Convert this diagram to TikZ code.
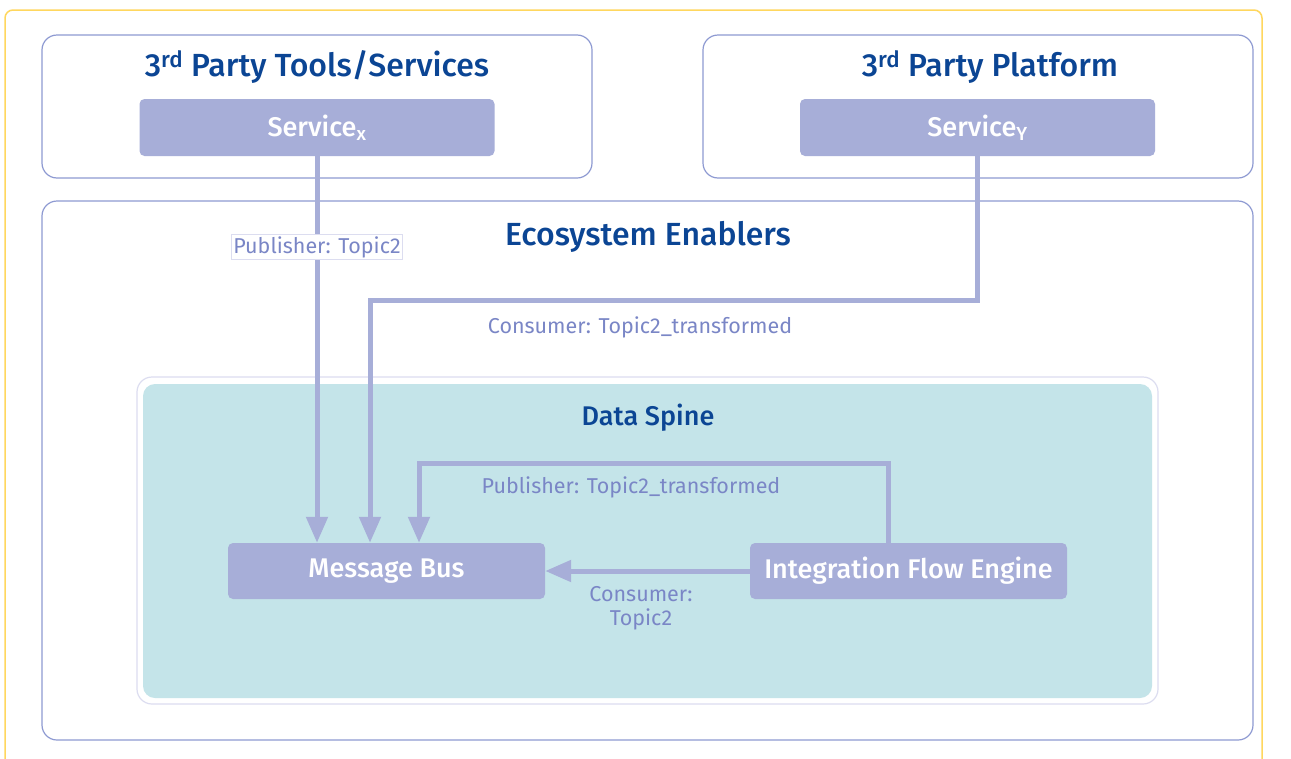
\documentclass[tikz,border=0pt]{standalone}
\usepackage{fontspec}
\setmainfont{Fira Sans}[BoldFont={Fira Sans Medium}]
\usetikzlibrary{arrows.meta}
\definecolor{lav}{HTML}{A7AED8}
\definecolor{frameblue}{HTML}{8E9AD2}
\definecolor{labtxt}{HTML}{7A86C6}
\definecolor{darkblue}{HTML}{0B4594}
\definecolor{teal}{HTML}{C4E4E9}
\definecolor{ylw}{HTML}{FFD75E}
\definecolor{spineedge}{HTML}{DCDDF0}
\tikzset{
  frame/.style={draw=frameblue, line width=1.2pt, rounded corners=15pt, inner sep=0pt},
  title/.style={text=darkblue, font=\bfseries\fontsize{32}{36}\selectfont},
  svc/.style={fill=lav, rounded corners=5pt, inner sep=0pt, text=white, font=\bfseries\fontsize{27}{30}\selectfont},
  conn/.style={draw=lav, line width=5pt},
  arr/.style={conn, -{Triangle[length=26pt,width=21pt]}},
  lab/.style={text=labtxt, font=\fontsize{21.5}{25}\selectfont, align=center, inner sep=2pt}
}
\begin{document}
\begin{tikzpicture}[x=1pt,y=-1pt]
\useasboundingbox (0,0) rectangle (1291,758);
\fill[white] (0,0) rectangle (1291,758);
\draw[ylw, line width=1.5pt, rounded corners=8pt] (5,800) -- (5,10) -- (1262,10) -- (1262,800);

% top boxes
\node[frame, minimum width=550pt, minimum height=143pt] (tools) at (317,106.5) {};
\node[frame, minimum width=550pt, minimum height=143pt] (plat) at (978,106.5) {};
\node[title] (toolsT) at (317,67) {3\textsuperscript{rd} Party Tools/Services};
\node[title] (platT) at (990,67) {3\textsuperscript{rd} Party Platform};
\node[svc, minimum width=355pt, minimum height=57pt] (sx) at (317,127.5) {Service\textsubscript{x}};
\node[svc, minimum width=355pt, minimum height=57pt] (sy) at (977.5,127.5) {Service\textsubscript{Y}};

% ecosystem
\node[frame, minimum width=1211pt, minimum height=539pt] (eco) at (647.5,470.5) {};
\node[title] (ecoT) at (648,237) {Ecosystem Enablers};

% data spine
\node[draw=spineedge, line width=1.2pt, fill=white, rounded corners=15pt, minimum width=1021pt, minimum height=327pt, inner sep=0pt] (spineO) at (647.5,540.5) {};
\node[fill=teal, rounded corners=12pt, minimum width=1009pt, minimum height=314pt, inner sep=0pt] (spine) at (647.5,541) {};
\node[text=darkblue, font=\bfseries\fontsize{27}{30}\selectfont] (spineT) at (648,418) {Data Spine};

\node[svc, minimum width=317pt, minimum height=56pt] (mb) at (386.5,571) {Message Bus};
\node[svc, minimum width=317pt, minimum height=56pt] (ife) at (908.5,571) {Integration Flow Engine};

% connectors
\coordinate (c2) at (370,300);
\coordinate (p3a) at (888,463);
\coordinate (p3b) at (419,463);
\draw[arr] (sx.south) -- (sx.south |- mb.north);
\draw[arr] (sy.south) |- (c2) -- (c2 |- mb.north);
\draw[arr] (p3a |- ife.north) -- (p3a) -- (p3b) -- (p3b |- mb.north);
\draw[arr] (ife.west) -- (mb.east);

% labels
\node[lab, fill=white, draw=spineedge, line width=1pt, inner sep=1.5pt] (l1) at (317,247) {Publisher: Topic2};
\node[lab] (l2) at (640,327) {Consumer: Topic2\_transformed};
\node[lab] (l3) at (631,487) {Publisher: Topic2\_transformed};
\node[lab, font=\fontsize{21.5}{24}\selectfont] (l4) at (641,608) {Consumer:\\Topic2};
\end{tikzpicture}
\end{document}
